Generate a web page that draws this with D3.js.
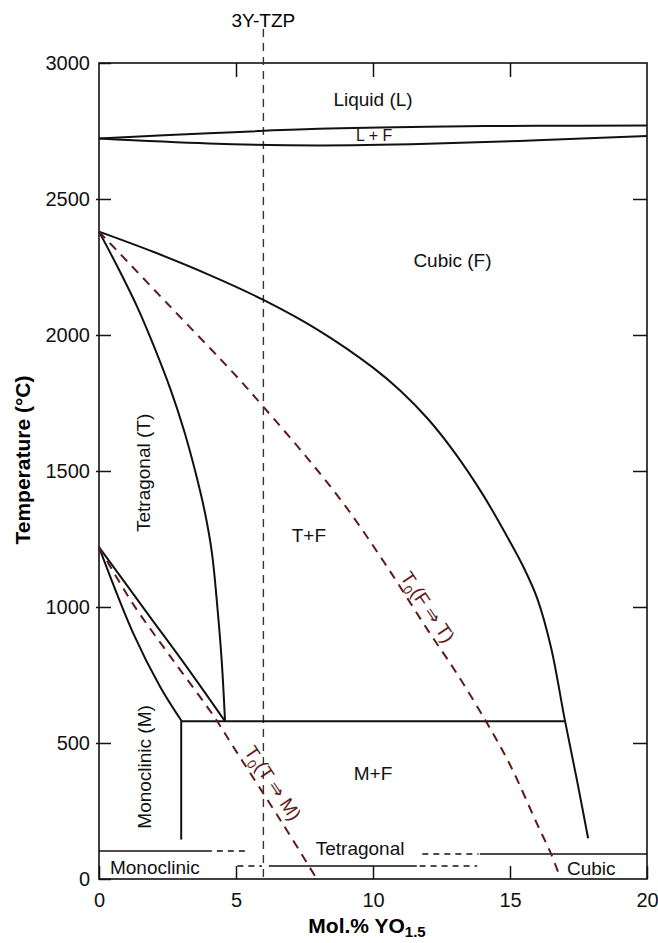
<!DOCTYPE html>
<html>
<head>
<meta charset="utf-8">
<script src="https://cdn.jsdelivr.net/npm/d3@7"></script>
<style>
  body { margin: 0; background: #fff; }
  text { font-family: "Liberation Sans", Arial, sans-serif; }
</style>
</head>
<body>
<svg id="chart" width="658" height="943"></svg>
<script>
// phase boundaries, [mol.% YO1.5, temperature °C]
const liquidus = [[0,2722],[4,2742],[8,2758],[12,2766],[16,2769],[20,2770]]
const solidus = [[0,2722],[4,2704],[8,2697],[12,2703],[16,2716],[20,2732]]
const cubicBoundary = [[0,2380],[2,2305],[4,2222],[6,2129],[8,2018],[10,1880],[11,1795],[12,1692],
  [13,1565],[14,1415],[15,1240],[15.5,1145],[16,1030],[16.5,850],[17,585],[17.45,360],[17.85,150]]
const tetragonalBoundary = [[0,2380],[0.68,2250],[1.41,2100],[2.04,1950],[2.61,1800],[3.1,1650],
  [3.51,1500],[3.86,1350],[4.12,1200],[4.32,1000],[4.48,800],[4.6,580]]
const lensUpper = [[0,1220],[1.86,964],[3.2,780],[4.6,580]]
const lensLower = [[0,1220],[1.25,903],[2.23,707],[3.02,580]]
const eutectoid = [[3,580],[17,580]]
const monoclinicEdge = [[3,580],[3,145]]
const t0FtoT = [[0,2380],[2.5,2115],[5,1850],[6,1736],[7.5,1560],[9,1370],[10.5,1150],[12,915],
  [13,765],[14.15,575],[15,420],[16,200],[16.5,92],[16.85,0]]
const t0TtoM = [[0,1220],[1.25,1010],[2.7,805],[4.2,597],[4.9,486],[6.7,204],[7.95,0]]

// low temperature band
const bandSolid = [[[0,103],[3.9,103]], [[13.9,92],[20,92]], [[6.2,48],[11.6,48]]]
const bandDashed = [[[3.9,103],[5.5,103]], [[11.8,92],[13.85,92]], [[5.05,48],[5.95,48]], [[11.7,48],[13.8,48]]]

// 3Y-TZP composition
const tzp = [[6,3125],[6,0]]

// axis ticks
const compTicks = [0, 5, 10, 15, 20]
const compInner = [5, 10, 15]
const tempTicks = [0, 500, 1000, 1500, 2000, 2500, 3000]
const tempInner = [500, 1000, 1500, 2000, 2500]

// region labels [text, x, T]
const regionLabels = [
  ['Liquid (L)', 10, 2842],
  ['Cubic (F)', 12.9, 2250],
  ['T+F', 7.66, 1239],
  ['M+F', 10, 364],
  ['Tetragonal', 9.53, 88]
]
const leftLabels = [['Monoclinic', 0.4, 18], ['Cubic', 17.08, 15]]
const rotatedLabels = [['Tetragonal (T)', 1.86, 1493], ['Monoclinic (M)', 1.9, 412]]

let svg = d3.select('#chart')

let xScale = d3.scaleLinear().domain([0, 20]).range([99, 647])
let yScale = d3.scaleLinear().domain([0, 3000]).range([879, 63])

let line = d3.line()
  .x(d => xScale(d[0]))
  .y(d => yScale(d[1]))
let curve = d3.line()
  .x(d => xScale(d[0]))
  .y(d => yScale(d[1]))
  .curve(d3.curveCatmullRom.alpha(0.5))

// axes
svg.append('g')
  .attr('transform', `translate(${xScale(0)},0)`)
  .call(d3.axisLeft(yScale).tickValues(tempTicks).tickFormat(d3.format('d'))
    .tickSizeInner(-12).tickSizeOuter(0).tickPadding(9))
svg.append('g')
  .attr('transform', `translate(${xScale(0)},0)`)
  .call(d3.axisLeft(yScale).tickValues(tempInner).tickSize(3).tickFormat(''))
svg.append('g')
  .attr('transform', `translate(${xScale(20)},0)`)
  .call(d3.axisRight(yScale).tickValues(tempInner).tickSize(-14).tickFormat(''))
svg.append('g')
  .attr('transform', `translate(0,${yScale(3000)})`)
  .call(d3.axisTop(xScale).tickValues(compInner).tickSize(-14).tickFormat(''))
svg.append('g')
  .attr('transform', `translate(0,${yScale(0)})`)
  .call(d3.axisBottom(xScale).tickValues(compTicks).tickFormat(d3.format('d'))
    .tickSizeInner(-13).tickSizeOuter(0).tickPadding(14))

svg.selectAll('.domain').remove()
svg.selectAll('.tick line').attr('stroke', '#111').attr('stroke-width', 1.5)
svg.selectAll('.tick text')
  .attr('fill', '#111')
  .style('font-size', '20px')
  .style('font-family', '"Liberation Sans", Arial, sans-serif')

// frame
svg.append('rect')
  .attr('x', xScale(0)).attr('y', yScale(3000))
  .attr('width', xScale(20) - xScale(0))
  .attr('height', yScale(0) - yScale(3000))
  .attr('fill', 'none').attr('stroke', '#111').attr('stroke-width', 1.6)

// axis titles
svg.append('text')
  .attr('transform', 'translate(30,460) rotate(-90)')
  .attr('text-anchor', 'middle')
  .style('font-size', '21px').style('font-weight', 'bold')
  .text('Temperature (°C)')

let xt = svg.append('text')
  .attr('x', 367).attr('y', 933)
  .attr('text-anchor', 'middle')
  .style('font-size', '21px').style('font-weight', 'bold')
xt.append('tspan').text('Mol.% YO')
xt.append('tspan').attr('dy', 4).style('font-size', '15px').text('1.5')

// 3Y-TZP line
svg.append('path')
  .attr('d', line(tzp))
  .attr('fill', 'none').attr('stroke', '#333').attr('stroke-width', 1.4)
  .attr('stroke-dasharray', '8,6')
svg.append('text')
  .attr('x', xScale(6)).attr('y', yScale(3132))
  .attr('text-anchor', 'middle')
  .style('font-size', '19px')
  .text('3Y-TZP')

// solid boundaries
let solid = [liquidus, solidus, cubicBoundary, tetragonalBoundary, lensUpper, lensLower]
svg.selectAll('.boundary')
  .data(solid)
  .enter()
  .append('path')
  .attr('class', 'boundary')
  .attr('d', d => curve(d))
  .attr('fill', 'none').attr('stroke', '#111').attr('stroke-width', 2)

svg.selectAll('.straight')
  .data([eutectoid, monoclinicEdge])
  .enter()
  .append('path')
  .attr('d', d => line(d))
  .attr('fill', 'none').attr('stroke', '#111').attr('stroke-width', 2)

// low temperature band
svg.selectAll('.band-solid')
  .data(bandSolid)
  .enter()
  .append('path')
  .attr('d', d => line(d))
  .attr('fill', 'none').attr('stroke', '#111').attr('stroke-width', 1.5)
svg.selectAll('.band-dashed')
  .data(bandDashed)
  .enter()
  .append('path')
  .attr('d', d => line(d))
  .attr('fill', 'none').attr('stroke', '#111').attr('stroke-width', 1.5)
  .attr('stroke-dasharray', '6,5')

// T0 lines
svg.selectAll('.t0')
  .data([t0FtoT, t0TtoM])
  .enter()
  .append('path')
  .attr('d', d => curve(d))
  .attr('fill', 'none').attr('stroke', '#5e1b1b').attr('stroke-width', 2)
  .attr('stroke-dasharray', '9,7')

// labels
svg.selectAll('.region')
  .data(regionLabels)
  .enter()
  .append('text')
  .attr('x', d => xScale(d[1])).attr('y', d => yScale(d[2]))
  .attr('text-anchor', 'middle')
  .attr('fill', '#111')
  .style('font-size', '19px')
  .text(d => d[0])

svg.selectAll('.region-left')
  .data(leftLabels)
  .enter()
  .append('text')
  .attr('x', d => xScale(d[1])).attr('y', d => yScale(d[2]))
  .attr('fill', '#111')
  .style('font-size', '19px')
  .text(d => d[0])

svg.selectAll('.region-rot')
  .data(rotatedLabels)
  .enter()
  .append('text')
  .attr('transform', d => `translate(${xScale(d[1])},${yScale(d[2])}) rotate(-90)`)
  .attr('text-anchor', 'middle')
  .attr('fill', '#111')
  .style('font-size', '19px')
  .text(d => d[0])

svg.append('text')
  .attr('x', xScale(10.04)).attr('y', yScale(2713))
  .attr('text-anchor', 'middle')
  .attr('fill', '#2a1010')
  .style('font-size', '16px')
  .text('L + F')

// T0 labels, rotated along the dashed lines
let t0Labels = [[12.0, 1000, 'F', 'T'], [6.35, 353, 'T', 'M']]
t0Labels.forEach(d => {
  let t = svg.append('text')
    .attr('transform', `translate(${xScale(d[0])},${yScale(d[1])}) rotate(56)`)
    .attr('text-anchor', 'middle')
    .attr('dy', '0.35em')
    .attr('fill', '#5e1b1b')
    .style('font-size', '19px')
  t.append('tspan').text('T')
  t.append('tspan').attr('dy', 5).style('font-size', '13px').text('0')
  t.append('tspan').attr('dy', -5).text(`(${d[2]} ⇒ ${d[3]})`)
})
</script>
</body>
</html>
